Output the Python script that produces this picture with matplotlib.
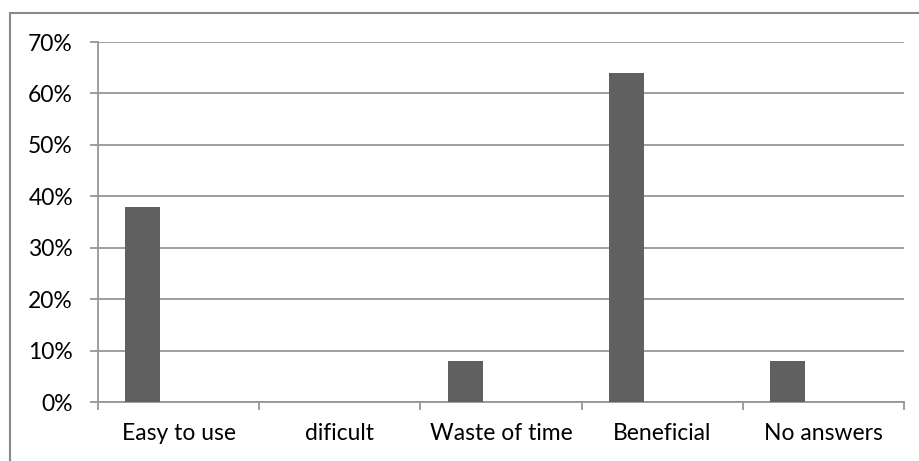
import matplotlib
matplotlib.use("Agg")
import matplotlib.pyplot as plt
from matplotlib.lines import Line2D
from matplotlib.ticker import PercentFormatter, FixedLocator
import numpy as np

categories = ["Easy to use", "dificult", "Waste of time", "Beneficial", "No answers"]
values = [38, 0, 8, 64, 8]
yticks = [0, 10, 20, 30, 40, 50, 60, 70]

plt.rcParams['font.family'] = ['Lato', 'DejaVu Sans']

fig = plt.figure(figsize=(9.2, 4.61), dpi=100)
ax = fig.add_axes([98/920, 1 - 402/461, (904 - 98)/920, (402 - 42)/461])

grid_c = '#969696'
x = np.arange(len(categories))
ax.bar(x - 0.222, values, width=0.218, color='#606060', zorder=3)

ax.set_xlim(-0.5, len(categories) - 0.5)
ax.set_ylim(0, 70)
ax.set_yticks(yticks)
ax.yaxis.set_major_formatter(PercentFormatter(decimals=0))
ax.yaxis.grid(True, color=grid_c, linewidth=1.3)
ax.set_axisbelow(True)

ax.set_xticks(x)
ax.set_xticklabels(categories)
ax.xaxis.set_minor_locator(FixedLocator(np.arange(len(categories) + 1) - 0.5))
ax.tick_params(axis='x', which='major', length=0, pad=15, labelsize=16.5)
ax.tick_params(axis='x', which='minor', length=6, width=1.3, color=grid_c)
ax.tick_params(axis='y', length=6, width=1.3, color=grid_c, pad=12, labelsize=16.5)

for s in ['top', 'right']:
    ax.spines[s].set_visible(False)
for s in ['left', 'bottom']:
    ax.spines[s].set_color(grid_c)
    ax.spines[s].set_linewidth(1.3)

# outer chart border (only top and left visible in the crop)
fig.add_artist(Line2D([10/920, 10/920], [0, 1 - 13/461], transform=fig.transFigure,
                      color='#8a8a8a', linewidth=1.5))
fig.add_artist(Line2D([10/920, 1], [1 - 13/461, 1 - 13/461], transform=fig.transFigure,
                      color='#8a8a8a', linewidth=1.5))

fig.savefig("out.png", dpi=100)
